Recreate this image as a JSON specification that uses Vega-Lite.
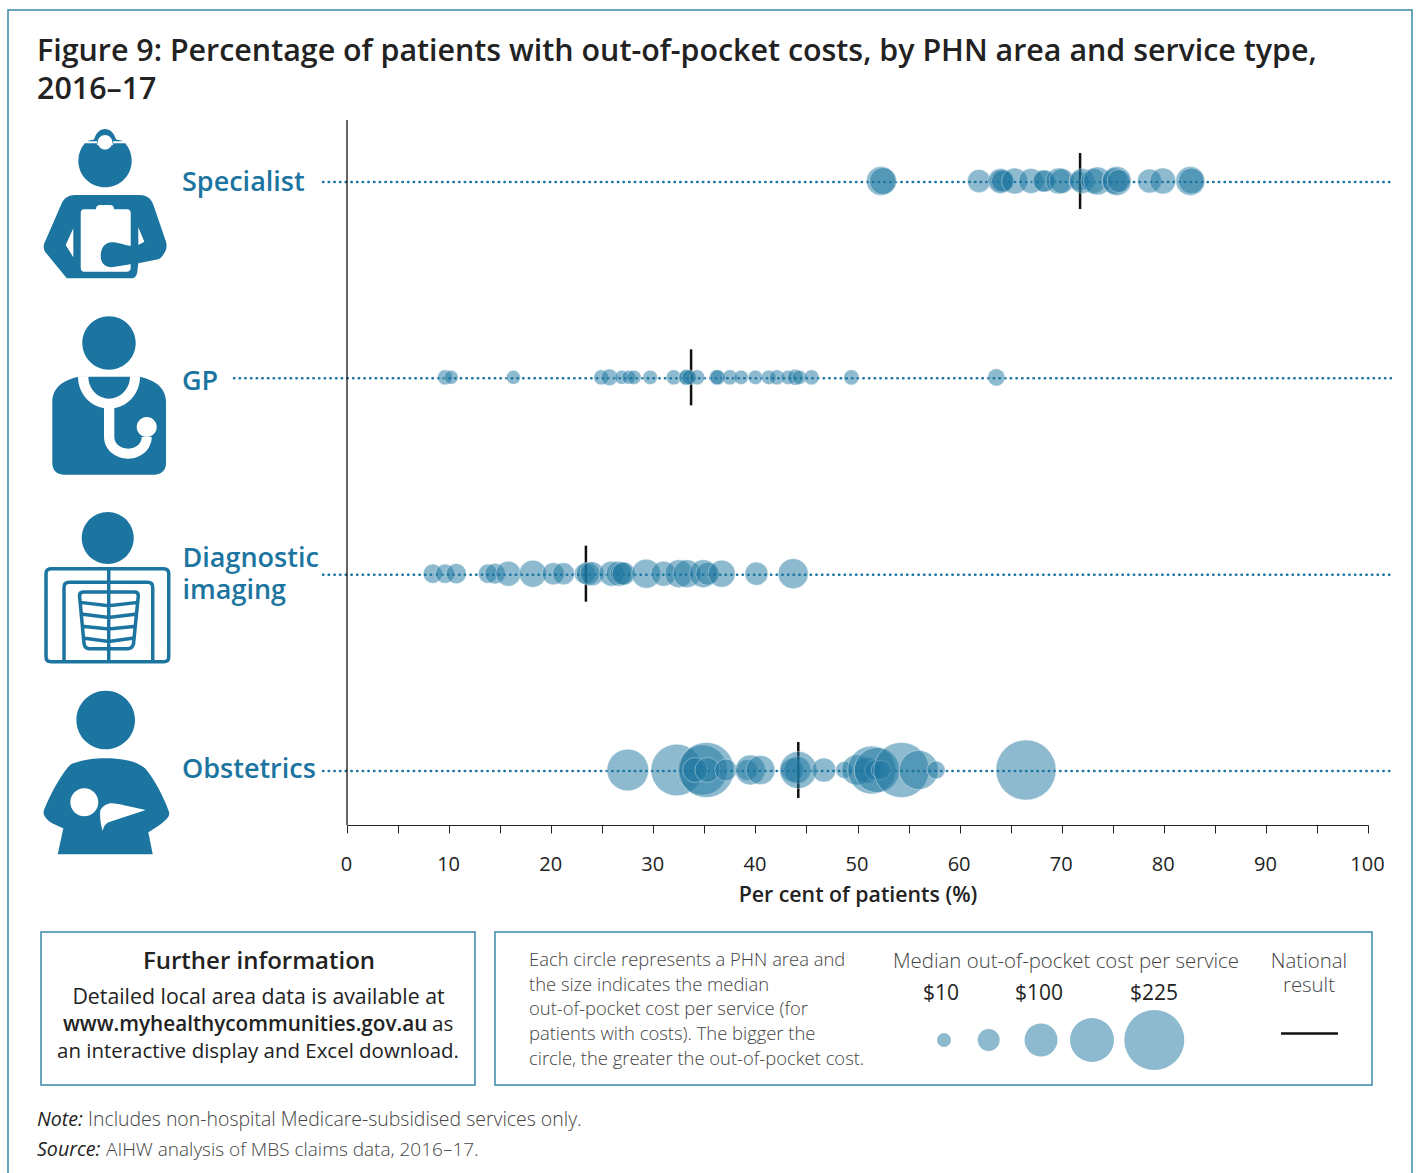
{
"$schema":"https://vega.github.io/schema/vega-lite/v6.json",
"width":1021,"height":705,"autosize":"none",
"padding":{"left":347,"top":120,"right":49,"bottom":348},
"background":"white",
"config":{"view":{"stroke":null},"font":"Open Sans"},
"title":{"text":["Figure 9: Percentage of patients with out-of-pocket costs, by PHN area and service type,","2016–17"],"anchor":"start","frame":"group","dx":-310,"offset":-96,"font":"Open Sans","fontSize":30.4,"fontWeight":600,"color":"#222222","lineHeight":38},
"datasets":{
"phn":[
{"service":"Specialist","pct":52.3,"cost":75},{"service":"Specialist","pct":52.5,"cost":64},{"service":"Specialist","pct":61.9,"cost":44},{"service":"Specialist","pct":64.0,"cost":53},{"service":"Specialist","pct":64.1,"cost":48},{"service":"Specialist","pct":64.2,"cost":39},{"service":"Specialist","pct":65.4,"cost":58},{"service":"Specialist","pct":67.0,"cost":53},{"service":"Specialist","pct":68.2,"cost":39},{"service":"Specialist","pct":68.3,"cost":39},{"service":"Specialist","pct":69.7,"cost":58},{"service":"Specialist","pct":70.0,"cost":53},{"service":"Specialist","pct":71.7,"cost":30},{"service":"Specialist","pct":72.0,"cost":53},{"service":"Specialist","pct":73.1,"cost":53},{"service":"Specialist","pct":73.5,"cost":69},{"service":"Specialist","pct":75.2,"cost":58},{"service":"Specialist","pct":75.4,"cost":75},{"service":"Specialist","pct":75.6,"cost":44},{"service":"Specialist","pct":78.6,"cost":48},{"service":"Specialist","pct":79.9,"cost":58},{"service":"Specialist","pct":82.6,"cost":75},{"service":"Specialist","pct":82.7,"cost":58},
{"service":"GP","pct":9.6,"cost":13},{"service":"GP","pct":10.2,"cost":10},{"service":"GP","pct":16.3,"cost":10},{"service":"GP","pct":24.9,"cost":13},{"service":"GP","pct":25.7,"cost":18},{"service":"GP","pct":26.9,"cost":10},{"service":"GP","pct":27.6,"cost":10},{"service":"GP","pct":28.1,"cost":11},{"service":"GP","pct":29.7,"cost":11},{"service":"GP","pct":32.0,"cost":13},{"service":"GP","pct":33.2,"cost":13},{"service":"GP","pct":33.3,"cost":16},{"service":"GP","pct":33.5,"cost":12},{"service":"GP","pct":34.3,"cost":13},{"service":"GP","pct":36.2,"cost":13},{"service":"GP","pct":36.3,"cost":13},{"service":"GP","pct":37.5,"cost":13},{"service":"GP","pct":38.6,"cost":11},{"service":"GP","pct":40.0,"cost":11},{"service":"GP","pct":41.3,"cost":11},{"service":"GP","pct":42.1,"cost":13},{"service":"GP","pct":43.2,"cost":11},{"service":"GP","pct":43.9,"cost":16},{"service":"GP","pct":44.3,"cost":11},{"service":"GP","pct":45.5,"cost":13},{"service":"GP","pct":49.4,"cost":14},{"service":"GP","pct":63.6,"cost":20},
{"service":"Diagnostic imaging","pct":8.4,"cost":27},{"service":"Diagnostic imaging","pct":9.6,"cost":27},{"service":"Diagnostic imaging","pct":10.7,"cost":31},{"service":"Diagnostic imaging","pct":13.8,"cost":27},{"service":"Diagnostic imaging","pct":14.5,"cost":33},{"service":"Diagnostic imaging","pct":15.8,"cost":53},{"service":"Diagnostic imaging","pct":18.2,"cost":64},{"service":"Diagnostic imaging","pct":20.2,"cost":39},{"service":"Diagnostic imaging","pct":21.2,"cost":39},{"service":"Diagnostic imaging","pct":23.3,"cost":35},{"service":"Diagnostic imaging","pct":23.6,"cost":44},{"service":"Diagnostic imaging","pct":24.0,"cost":48},{"service":"Diagnostic imaging","pct":25.9,"cost":53},{"service":"Diagnostic imaging","pct":26.6,"cost":53},{"service":"Diagnostic imaging","pct":26.9,"cost":44},{"service":"Diagnostic imaging","pct":27.1,"cost":44},{"service":"Diagnostic imaging","pct":29.3,"cost":75},{"service":"Diagnostic imaging","pct":31.0,"cost":53},{"service":"Diagnostic imaging","pct":32.5,"cost":69},{"service":"Diagnostic imaging","pct":33.3,"cost":69},{"service":"Diagnostic imaging","pct":34.9,"cost":69},{"service":"Diagnostic imaging","pct":35.3,"cost":44},{"service":"Diagnostic imaging","pct":36.7,"cost":64},{"service":"Diagnostic imaging","pct":40.1,"cost":44},{"service":"Diagnostic imaging","pct":43.7,"cost":81},
{"service":"Obstetrics","pct":27.5,"cost":132},{"service":"Obstetrics","pct":32.3,"cost":178},{"service":"Obstetrics","pct":34.8,"cost":170},{"service":"Obstetrics","pct":35.2,"cost":197},{"service":"Obstetrics","pct":34.1,"cost":53},{"service":"Obstetrics","pct":35.3,"cost":53},{"service":"Obstetrics","pct":37.1,"cost":39},{"service":"Obstetrics","pct":39.2,"cost":35},{"service":"Obstetrics","pct":39.5,"cost":81},{"service":"Obstetrics","pct":40.5,"cost":75},{"service":"Obstetrics","pct":43.6,"cost":44},{"service":"Obstetrics","pct":44.1,"cost":64},{"service":"Obstetrics","pct":44.2,"cost":114},{"service":"Obstetrics","pct":46.7,"cost":48},{"service":"Obstetrics","pct":48.7,"cost":19},{"service":"Obstetrics","pct":49.9,"cost":81},{"service":"Obstetrics","pct":50.9,"cost":58},{"service":"Obstetrics","pct":51.4,"cost":161},{"service":"Obstetrics","pct":51.7,"cost":31},{"service":"Obstetrics","pct":51.9,"cost":147},{"service":"Obstetrics","pct":52.3,"cost":27},{"service":"Obstetrics","pct":54.3,"cost":197},{"service":"Obstetrics","pct":56.0,"cost":122},{"service":"Obstetrics","pct":57.7,"cost":23},{"service":"Obstetrics","pct":66.5,"cost":225}
],
"national":[{"service":"Specialist","pct":71.8},{"service":"GP","pct":33.7},{"service":"Diagnostic imaging","pct":23.4},{"service":"Obstetrics","pct":44.2}],
"leader":[{"service":"Specialist","from":-2.35,"to":102.25},{"service":"GP","from":-11.07,"to":102.25},{"service":"Diagnostic imaging","from":-2.35,"to":102.25},{"service":"Obstetrics","from":-2.35,"to":102.25}]
},
"layer":[
{"data":{"values":[{"px":8,"px2":1412,"py":10,"py2":1200},{"px":41,"px2":475,"py":932,"py2":1085},{"px":495,"px2":1372,"py":932,"py2":1085}]},
"mark":{"type":"rect","fill":null,"stroke":"#3a86a8","strokeWidth":1.5},
"encoding":{"x":{"field":"px","type":"quantitative","scale":{"domain":[347,1368],"range":[0,1021],"nice":false,"zero":false},"axis":null},"x2":{"field":"px2"},"y":{"field":"py","type":"quantitative","scale":{"domain":[120,825],"range":[0,705],"nice":false,"zero":false},"axis":null},"y2":{"field":"py2"}}},
{"data":{"name":"leader"},"mark":{"type":"rule","color":"#1c75a0","strokeWidth":2.5,"strokeCap":"round","strokeDash":[0.4,5.27],"yOffset":1},
"encoding":{"x":{"field":"from","type":"quantitative","scale":{"domain":[0,100],"nice":false,"zero":false},
"axis":{"values":[0,5,10,15,20,25,30,35,40,45,50,55,60,65,70,75,80,85,90,95,100],"labelExpr":"datum.value % 10 == 0 ? datum.label : ''","grid":false,"tickSize":8,"tickColor":"#222222","domainColor":"#222222","labelFont":"Open Sans","labelFontSize":20,"labelColor":"#222222","labelPadding":21,"labelOffset":-1,"labelFlush":false,"labelOverlap":false,"title":"Per cent of patients (%)","titleFont":"Open Sans","titleFontSize":21.3,"titleFontWeight":600,"titleColor":"#222222","titlePadding":10}},
"x2":{"field":"to"},
"y":{"field":"service","type":"nominal","sort":null,"scale":{"type":"point","padding":0,"domain":["Specialist","GP","Diagnostic imaging","Obstetrics"],"range":[61,650]},"axis":null}}},
{"data":{"name":"national"},"mark":{"type":"tick","color":"#111111","opacity":1,"size":56,"thickness":2.5,"orient":"vertical"},
"encoding":{"x":{"field":"pct","type":"quantitative","scale":{"domain":[0,100],"nice":false,"zero":false},"axis":null},
"y":{"field":"service","type":"nominal","scale":{"type":"point","padding":0,"domain":["Specialist","GP","Diagnostic imaging","Obstetrics"],"range":[61,650]},"axis":null}}},
{"data":{"name":"phn"},"mark":{"type":"circle","fill":"#1c75a0","fillOpacity":0.5,"opacity":1,"stroke":"#ffffff","strokeWidth":0.6,"strokeOpacity":0.6},
"encoding":{"x":{"field":"pct","type":"quantitative","scale":{"domain":[0,100],"nice":false,"zero":false},"axis":null},
"y":{"field":"service","type":"nominal","scale":{"type":"point","padding":0,"domain":["Specialist","GP","Diagnostic imaging","Obstetrics"],"range":[61,650]},"axis":null},
"size":{"field":"cost","type":"quantitative","scale":{"domain":[10,100,225],"range":[196,1089,3600]},"legend":null}}},
{"data":{"values":[{"px":347,"py":120,"py2":825}]},"mark":{"type":"rule","color":"#000000","strokeWidth":1.2},
"encoding":{"x":{"field":"px","type":"quantitative","scale":{"domain":[347,1368],"range":[0,1021],"nice":false,"zero":false},"axis":null},"y":{"field":"py","type":"quantitative","scale":{"domain":[120,825],"range":[0,705],"nice":false,"zero":false},"axis":null},"y2":{"field":"py2"}}},
{"data":{"values":[{"px":1281,"px2":1338,"py":1033.5}]},"mark":{"type":"rule","color":"#111111","strokeWidth":2.5},
"encoding":{"x":{"field":"px","type":"quantitative","scale":{"domain":[347,1368],"range":[0,1021],"nice":false,"zero":false},"axis":null},"x2":{"field":"px2"},"y":{"field":"py","type":"quantitative","scale":{"domain":[120,825],"range":[0,705],"nice":false,"zero":false},"axis":null}}},
{"data":{"values":[{"cost":10,"px":944,"py":1040},{"cost":39,"px":988.7,"py":1040},{"cost":100,"px":1041,"py":1040},{"cost":142,"px":1092,"py":1040},{"cost":225,"px":1154.3,"py":1040}]},
"mark":{"type":"circle","fill":"#1c75a0","fillOpacity":0.5,"opacity":1},
"encoding":{"x":{"field":"px","type":"quantitative","scale":{"domain":[347,1368],"range":[0,1021],"nice":false,"zero":false},"axis":null},"y":{"field":"py","type":"quantitative","scale":{"domain":[120,825],"range":[0,705],"nice":false,"zero":false},"axis":null},
"size":{"field":"cost","type":"quantitative","scale":{"domain":[10,100,225],"range":[196,1089,3600]},"legend":null}}},
{"data":{"values":[{"label":"Specialist","px":182,"py":191},{"label":"GP","px":182,"py":390},{"label":"Diagnostic","px":182.5,"py":567},{"label":"imaging","px":182.5,"py":598.5},{"label":"Obstetrics","px":182,"py":778}]},
"mark":{"type":"text","align":"left","baseline":"alphabetic","font":"Open Sans","fontSize":27,"fontWeight":600,"fill":"#1c75a0"},
"encoding":{"x":{"field":"px","type":"quantitative","scale":{"domain":[347,1368],"range":[0,1021],"nice":false,"zero":false},"axis":null},"y":{"field":"py","type":"quantitative","scale":{"domain":[120,825],"range":[0,705],"nice":false,"zero":false},"axis":null},"text":{"field":"label"}}},
{"data":{"values":[{"label":"Further information","px":259,"py":969}]},
"mark":{"type":"text","align":"center","baseline":"alphabetic","font":"Open Sans","fontSize":24,"fontWeight":600,"fill":"#222222"},
"encoding":{"x":{"field":"px","type":"quantitative","scale":{"domain":[347,1368],"range":[0,1021],"nice":false,"zero":false},"axis":null},"y":{"field":"py","type":"quantitative","scale":{"domain":[120,825],"range":[0,705],"nice":false,"zero":false},"axis":null},"text":{"field":"label"}}},
{"data":{"values":[{"label":"Detailed local area data is available at","px":258.5,"py":1004}]},
"mark":{"type":"text","align":"center","baseline":"alphabetic","font":"Open Sans","fontSize":21.3,"fill":"#222222"},
"encoding":{"x":{"field":"px","type":"quantitative","scale":{"domain":[347,1368],"range":[0,1021],"nice":false,"zero":false},"axis":null},"y":{"field":"py","type":"quantitative","scale":{"domain":[120,825],"range":[0,705],"nice":false,"zero":false},"axis":null},"text":{"field":"label"}}},
{"data":{"values":[{"label":"an interactive display and Excel download.","px":258,"py":1058}]},
"mark":{"type":"text","align":"center","baseline":"alphabetic","font":"Open Sans","fontSize":20.45,"fill":"#222222"},
"encoding":{"x":{"field":"px","type":"quantitative","scale":{"domain":[347,1368],"range":[0,1021],"nice":false,"zero":false},"axis":null},"y":{"field":"py","type":"quantitative","scale":{"domain":[120,825],"range":[0,705],"nice":false,"zero":false},"axis":null},"text":{"field":"label"}}},
{"data":{"values":[{"label":"www.myhealthycommunities.gov.au","px":63,"py":1031}]},
"mark":{"type":"text","align":"left","baseline":"alphabetic","font":"Open Sans","fontSize":20.7,"fontWeight":600,"fill":"#222222"},
"encoding":{"x":{"field":"px","type":"quantitative","scale":{"domain":[347,1368],"range":[0,1021],"nice":false,"zero":false},"axis":null},"y":{"field":"py","type":"quantitative","scale":{"domain":[120,825],"range":[0,705],"nice":false,"zero":false},"axis":null},"text":{"field":"label"}}},
{"data":{"values":[{"label":"as","px":432,"py":1031}]},
"mark":{"type":"text","align":"left","baseline":"alphabetic","font":"Open Sans","fontSize":20.7,"fill":"#222222"},
"encoding":{"x":{"field":"px","type":"quantitative","scale":{"domain":[347,1368],"range":[0,1021],"nice":false,"zero":false},"axis":null},"y":{"field":"py","type":"quantitative","scale":{"domain":[120,825],"range":[0,705],"nice":false,"zero":false},"axis":null},"text":{"field":"label"}}},
{"data":{"values":[{"label":"Each circle represents a PHN area and","px":529,"py":966},{"label":"the size indicates the median","px":529,"py":991},{"label":"out-of-pocket cost per service (for","px":529,"py":1015},{"label":"patients with costs). The bigger the","px":529,"py":1040},{"label":"circle, the greater the out-of-pocket cost.","px":529,"py":1065}]},
"mark":{"type":"text","align":"left","baseline":"alphabetic","font":"Open Sans","fontSize":18.4,"fontWeight":300,"fill":"#444444"},
"encoding":{"x":{"field":"px","type":"quantitative","scale":{"domain":[347,1368],"range":[0,1021],"nice":false,"zero":false},"axis":null},"y":{"field":"py","type":"quantitative","scale":{"domain":[120,825],"range":[0,705],"nice":false,"zero":false},"axis":null},"text":{"field":"label"}}},
{"data":{"values":[{"label":"Median out-of-pocket cost per service","px":1066,"py":968},{"label":"National","px":1309,"py":968},{"label":"result","px":1309,"py":992}]},
"mark":{"type":"text","align":"center","baseline":"alphabetic","font":"Open Sans","fontSize":20.4,"fontWeight":300,"fill":"#444444"},
"encoding":{"x":{"field":"px","type":"quantitative","scale":{"domain":[347,1368],"range":[0,1021],"nice":false,"zero":false},"axis":null},"y":{"field":"py","type":"quantitative","scale":{"domain":[120,825],"range":[0,705],"nice":false,"zero":false},"axis":null},"text":{"field":"label"}}},
{"data":{"values":[{"label":"$10","px":941,"py":1000},{"label":"$100","px":1039,"py":1000},{"label":"$225","px":1154,"py":1000}]},
"mark":{"type":"text","align":"center","baseline":"alphabetic","font":"Open Sans","fontSize":21,"fill":"#222222"},
"encoding":{"x":{"field":"px","type":"quantitative","scale":{"domain":[347,1368],"range":[0,1021],"nice":false,"zero":false},"axis":null},"y":{"field":"py","type":"quantitative","scale":{"domain":[120,825],"range":[0,705],"nice":false,"zero":false},"axis":null},"text":{"field":"label"}}},
{"data":{"values":[{"label":"Note:","px":37,"py":1126},{"label":"Source:","px":37,"py":1156}]},
"mark":{"type":"text","align":"left","baseline":"alphabetic","font":"Open Sans","fontSize":19.6,"fontStyle":"italic","fill":"#222222"},
"encoding":{"x":{"field":"px","type":"quantitative","scale":{"domain":[347,1368],"range":[0,1021],"nice":false,"zero":false},"axis":null},"y":{"field":"py","type":"quantitative","scale":{"domain":[120,825],"range":[0,705],"nice":false,"zero":false},"axis":null},"text":{"field":"label"}}},
{"data":{"values":[{"label":"Includes non-hospital Medicare-subsidised services only.","px":88,"py":1126}]},
"mark":{"type":"text","align":"left","baseline":"alphabetic","font":"Open Sans","fontSize":19.47,"fontWeight":300,"fill":"#444444"},
"encoding":{"x":{"field":"px","type":"quantitative","scale":{"domain":[347,1368],"range":[0,1021],"nice":false,"zero":false},"axis":null},"y":{"field":"py","type":"quantitative","scale":{"domain":[120,825],"range":[0,705],"nice":false,"zero":false},"axis":null},"text":{"field":"label"}}},
{"data":{"values":[{"label":"AIHW analysis of MBS claims data, 2016–17.","px":106,"py":1156}]},
"mark":{"type":"text","align":"left","baseline":"alphabetic","font":"Open Sans","fontSize":19,"fontWeight":300,"fill":"#444444"},
"encoding":{"x":{"field":"px","type":"quantitative","scale":{"domain":[347,1368],"range":[0,1021],"nice":false,"zero":false},"axis":null},"y":{"field":"py","type":"quantitative","scale":{"domain":[120,825],"range":[0,705],"nice":false,"zero":false},"axis":null},"text":{"field":"label"}}},
{"data":{"values":[{"service":"Specialist","at":-23.7}]},"mark":{"type":"point","filled":true,"opacity":1,"size":4,"fill":"#1c75a0","stroke":null,"shape":"M-20.3,-37.7 A26.7,26.7 0 1 0 20.3,-37.7 Z M-17,-40.2 L-11,-41.5 C-9,-48 -5,-52 0,-52 C5,-52 9,-48 11,-41.5 L17,-40.2 L17,-39.8 L8,-39.8 L8,-36 L-8,-36 L-8,-39.8 L-17,-39.8 Z M-30,14 L35,14 C43,14 47,19 49,25.7 L61,60.7 C62,66 61.5,68 60,70.7 C58,75 55,78 53.3,78.3 L33.3,82.3 L32.3,90.7 C32,95 29,97.3 26.7,97.3 L-38.3,97.3 L-60,70.7 C-61.5,68 -61.5,65 -61,63 L-43.3,22.3 C-41,17 -36,14 -30,14 Z"},
"encoding":{"x":{"field":"at","type":"quantitative","scale":{"domain":[0,100],"nice":false,"zero":false},"axis":null},"y":{"field":"service","type":"nominal","scale":{"type":"point","padding":0,"domain":["Specialist","GP","Diagnostic imaging","Obstetrics"],"range":[61,650]},"axis":null}}},
{"data":{"values":[{"service":"Specialist","at":-23.7}]},"mark":{"type":"point","filled":true,"opacity":1,"size":4,"fill":"#ffffff","stroke":null,"shape":"M-7.3,-38.7 A7.3,7.3 0 1 1 7.3,-38.7 A7.3,7.3 0 1 1 -7.3,-38.7 Z M-21,28.3 L-9,28.3 C-9,25 -7,24 -5,24 L5,24 C7,24 9,25 9,28.3 L22,28.3 C24.5,28.3 25.7,30 25.7,32 L25.7,87 C25.7,89 24,90.7 22,90.7 L-21,90.7 C-23,90.7 -24.3,89 -24.3,87 L-24.3,32 C-24.3,30 -23,28.3 -21,28.3 Z M-31.7,47.3 L-39.3,64 L-31.7,76.3 Z M33.3,46.3 L39.3,60.7 L33.3,64 Z"},
"encoding":{"x":{"field":"at","type":"quantitative","scale":{"domain":[0,100],"nice":false,"zero":false},"axis":null},"y":{"field":"service","type":"nominal","scale":{"type":"point","padding":0,"domain":["Specialist","GP","Diagnostic imaging","Obstetrics"],"range":[61,650]},"axis":null}}},
{"data":{"values":[{"service":"Specialist","at":-23.7}]},"mark":{"type":"point","filled":true,"opacity":1,"size":4,"fill":"#1c75a0","stroke":null,"shape":"M26,65 C18,64 14,61.3 6.7,61.3 C0,61.3 -4.3,67 -4.3,75 C-4.3,82 0,86.3 6.7,86.3 L27,83 Z"},
"encoding":{"x":{"field":"at","type":"quantitative","scale":{"domain":[0,100],"nice":false,"zero":false},"axis":null},"y":{"field":"service","type":"nominal","scale":{"type":"point","padding":0,"domain":["Specialist","GP","Diagnostic imaging","Obstetrics"],"range":[61,650]},"axis":null}}},
{"data":{"values":[{"service":"GP","at":-23.7}]},"mark":{"type":"point","filled":true,"opacity":1,"size":4,"fill":"#1c75a0","stroke":null,"shape":"M-22.7,-34.3 A26.7,26.7 0 1 1 30.7,-34.3 A26.7,26.7 0 1 1 -22.7,-34.3 Z M-26.7,-0.7 L35,-0.7 C50,3 61,10 61,24.7 L61,86 C61,93 56,97.3 50,97.3 L-42,97.3 C-48,97.3 -52.7,93 -52.7,86 L-52.7,24.7 C-52.7,10 -42,3 -26.7,-0.7 Z"},
"encoding":{"x":{"field":"at","type":"quantitative","scale":{"domain":[0,100],"nice":false,"zero":false},"axis":null},"y":{"field":"service","type":"nominal","scale":{"type":"point","padding":0,"domain":["Specialist","GP","Diagnostic imaging","Obstetrics"],"range":[61,650]},"axis":null}}},
{"data":{"values":[{"service":"GP","at":-23.7}]},"mark":{"type":"point","filled":true,"opacity":1,"size":4,"fill":"#ffffff","stroke":null,"shape":"M-27,-1 L-16.7,-1 C-16.7,12 -7,21.3 4,21.3 C15,21.3 25,12 25,-1 L35,-1 C35,16 24,28 9.3,31 L9.3,59.7 C9.3,66 15,71.3 23.3,71.3 C31,71.3 36.7,66 36.7,59.7 L46.7,59.7 C46.7,72 36,81.3 23.3,81.3 C10,81.3 -1,72 -1,59.7 L-1,31 C-16,28 -27,16 -27,-1 Z M31.7,49.7 A10,10 0 1 1 51.7,49.7 A10,10 0 1 1 31.7,49.7 Z"},
"encoding":{"x":{"field":"at","type":"quantitative","scale":{"domain":[0,100],"nice":false,"zero":false},"axis":null},"y":{"field":"service","type":"nominal","scale":{"type":"point","padding":0,"domain":["Specialist","GP","Diagnostic imaging","Obstetrics"],"range":[61,650]},"axis":null}}},
{"data":{"values":[{"service":"Diagnostic imaging","at":-23.7}]},"mark":{"type":"point","filled":true,"opacity":1,"size":4,"fill":"#1c75a0","stroke":null,"shape":"M-23.3,-35.7 A26,26 0 1 1 28.7,-35.7 A26,26 0 1 1 -23.3,-35.7 Z"},
"encoding":{"x":{"field":"at","type":"quantitative","scale":{"domain":[0,100],"nice":false,"zero":false},"axis":null},"y":{"field":"service","type":"nominal","scale":{"type":"point","padding":0,"domain":["Specialist","GP","Diagnostic imaging","Obstetrics"],"range":[61,650]},"axis":null}}},
{"data":{"values":[{"service":"Diagnostic imaging","at":-23.7}]},"mark":{"type":"point","filled":false,"opacity":1,"size":4,"fill":null,"stroke":"#1c75a0","strokeWidth":3.5,"shape":"M-54,-5 L58.7,-5 Q63.7,-5 63.7,0 L63.7,83 Q63.7,88 58.7,88 L-54,88 Q-59,88 -59,83 L-59,0 Q-59,-5 -54,-5 Z M-41,88 L-41,13.7 Q-41,8.7 -36,8.7 L42.7,8.7 Q47.7,8.7 47.7,13.7 L47.7,88 M3.7,-5 L3.7,88 M-21,18.3 L29.3,18.3 Q33.3,18.3 33.3,22 L28.5,70 Q27,75 23,75 L-16,75 Q-20,75 -21,70 L-25.5,22 Q-25.5,18.3 -21,18.3 Z M-25,28.7 L3.7,32 L33,28.7 M-24,40.3 L3.7,43.7 L32,40.3 M-23,52.7 L3.7,55.3 L31,52.7 M-22,64.3 L3.7,67.7 L29,64.3"},
"encoding":{"x":{"field":"at","type":"quantitative","scale":{"domain":[0,100],"nice":false,"zero":false},"axis":null},"y":{"field":"service","type":"nominal","scale":{"type":"point","padding":0,"domain":["Specialist","GP","Diagnostic imaging","Obstetrics"],"range":[61,650]},"axis":null}}},
{"data":{"values":[{"service":"Obstetrics","at":-23.7}]},"mark":{"type":"point","filled":true,"opacity":1,"size":4,"fill":"#1c75a0","stroke":null,"shape":"M-28.6,-50 A29.3,29.3 0 1 1 30,-50 A29.3,29.3 0 1 1 -28.6,-50 Z M-31.7,-6.7 C-20,-10.5 -10,-11.7 0,-11.7 C12,-11.7 24,-10 31.7,-6.7 C35,-5 38,-3.5 40,-1.7 C50,10 58,26 63.3,40 C64.5,43 64.5,45 63.3,46.7 C60,52 50,58 43.3,62.3 L47.7,84.3 L-47.3,84.3 L-41.7,58.3 C-50,55 -56,52 -59,48.3 C-61.5,45 -62,43 -61,40 C-55,25 -46,8 -36.7,-3.3 C-35,-5 -33.5,-6 -31.7,-6.7 Z"},
"encoding":{"x":{"field":"at","type":"quantitative","scale":{"domain":[0,100],"nice":false,"zero":false},"axis":null},"y":{"field":"service","type":"nominal","scale":{"type":"point","padding":0,"domain":["Specialist","GP","Diagnostic imaging","Obstetrics"],"range":[61,650]},"axis":null}}},
{"data":{"values":[{"service":"Obstetrics","at":-23.7}]},"mark":{"type":"point","filled":true,"opacity":1,"size":4,"fill":"#ffffff","stroke":null,"shape":"M-34.7,32.3 A14,14 0 1 1 -6.7,32.3 A14,14 0 1 1 -34.7,32.3 Z M40.7,40 L20,35.5 C14,34 9,33 5,33.3 C-1,35 -5,38 -5,43.3 C-5,50 -4,56 -2.3,61 C-1,55 1,53 5,51.7 Z"},
"encoding":{"x":{"field":"at","type":"quantitative","scale":{"domain":[0,100],"nice":false,"zero":false},"axis":null},"y":{"field":"service","type":"nominal","scale":{"type":"point","padding":0,"domain":["Specialist","GP","Diagnostic imaging","Obstetrics"],"range":[61,650]},"axis":null}}}
],
"resolve":{"scale":{"x":"independent","y":"independent"}}
}
